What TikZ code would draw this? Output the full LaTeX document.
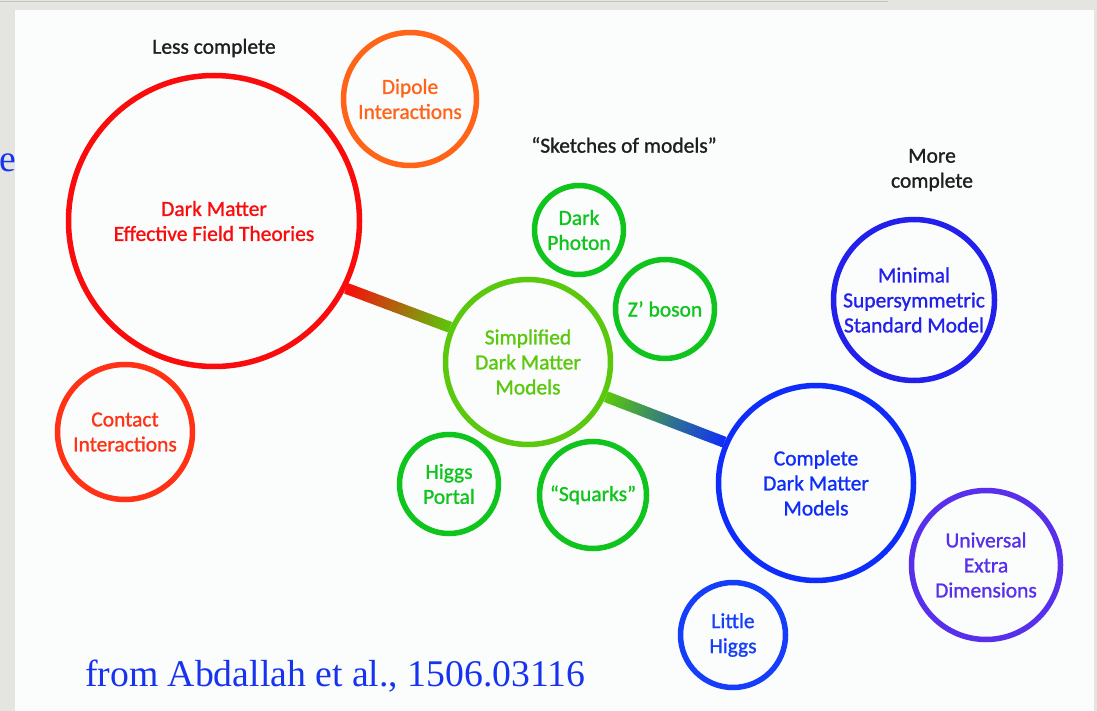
\documentclass[tikz,border=0pt]{standalone}
\usepackage{fontspec}
\setmainfont{Carlito}
\newfontfamily\labfont{Carlito}[FakeBold=1.1]
\newfontfamily\refserif{Liberation Serif}
\usetikzlibrary{calc,backgrounds}
\definecolor{cFrame}{RGB}{228,228,224}
\definecolor{cFrameLine}{RGB}{196,196,190}
\definecolor{cPanel}{RGB}{251,252,252}
\definecolor{cRed}{RGB}{250,12,12}
\definecolor{cDipole}{RGB}{255,100,25}
\definecolor{cContact}{RGB}{255,50,22}
\definecolor{cSimp}{RGB}{90,200,12}
\definecolor{cGreen}{RGB}{15,196,28}
\definecolor{cBlue}{RGB}{15,45,250}
\definecolor{cMSSM}{RGB}{35,32,236}
\definecolor{cUED}{RGB}{88,48,236}
\definecolor{cLH}{RGB}{20,62,250}
\definecolor{cFoot}{RGB}{22,52,240}
\definecolor{cNote}{RGB}{30,30,30}
\newcommand\gradbar[4]{%
  \foreach \i in {0,...,49}{%
    \pgfmathsetmacro\ta{\i/50}%
    \pgfmathsetmacro\tb{min(1,(\i+1.6)/50)}%
    \pgfmathtruncatemacro\pp{100-2*\i}%
    \draw[line width=11pt, color=#3!\pp!#4] ($(#1)!\ta!(#2)$) -- ($(#1)!\tb!(#2)$);
  }}
\tikzset{
  bub/.style={circle, draw=#1, text=#1, line width=5.5pt, inner sep=0pt,
    align=center, font=\labfont\fontsize{21.5}{25}\selectfont},
  note/.style={align=center, font=\labfont\fontsize{21.5}{25}\selectfont, text=cNote, inner sep=0pt},
  foot/.style={font=\refserif\fontsize{37.7}{40}\selectfont, text=cFoot, inner sep=0pt},
}
\begin{document}
\begin{tikzpicture}[x=1pt,y=-1pt]
\useasboundingbox (0,0) rectangle (1097,711);

% circles
\node[bub=cRed, minimum size=291pt] (eft) at (214,221) {Dark Matter\\Effective Field Theories};
\node[bub=cDipole, minimum size=133pt] (dip) at (410,99) {Dipole\\Interactions};
\node[bub=cContact, minimum size=135pt] (con) at (125,432) {Contact\\Interactions};
\node[bub=cSimp, minimum size=165pt] (simp) at (528,362) {Simplified\\Dark Matter\\Models};
\node[bub=cGreen, minimum size=89pt] (pho) at (579,230) {Dark\\Photon};
\node[bub=cGreen, minimum size=99pt] (zb) at (665,309) {Z’ boson};
\node[bub=cGreen, minimum size=99pt] (hp) at (449,484) {Higgs\\Portal};
\node[bub=cGreen, minimum size=107pt] (sq) at (593,495) {“Squarks”};
\node[bub=cBlue, minimum size=195pt] (comp) at (816,483) {Complete\\Dark Matter\\Models};
\node[bub=cMSSM, minimum size=161pt] (mssm) at (914,300) {Minimal\\Supersymmetric\\Standard Model};
\node[bub=cUED, minimum size=149pt] (ued) at (986,565) {Universal\\Extra\\Dimensions};
\node[bub=cLH, minimum size=105pt] (lh) at (733,635) {Little\\Higgs};

% notes
\node[note] (less) at (214,48) {Less complete};
\node[note] (sketch) at (624,145) {“Sketches of models”};
\node[note] (more) at (932,170) {More\\complete};

% citation
\node[foot, anchor=base west] (cite) at (85,686) {from Abdallah et al., 1506.03116};
\node[foot, anchor=base east] (cut) at (16.5,172) {e};

\begin{pgfonlayer}{background}
  \fill[cFrame] (0,0) rectangle (1097,711);
  \draw[cFrameLine, line width=1.5pt] (0,1.5) -- (888,1.5);
  \fill[cPanel] (15,10) rectangle (1094,711);
  \gradbar{eft.-27}{simp.156}{cRed}{cSimp}
  \gradbar{simp.-24}{comp.156}{cSimp}{cBlue}
\end{pgfonlayer}
\end{tikzpicture}
\end{document}
